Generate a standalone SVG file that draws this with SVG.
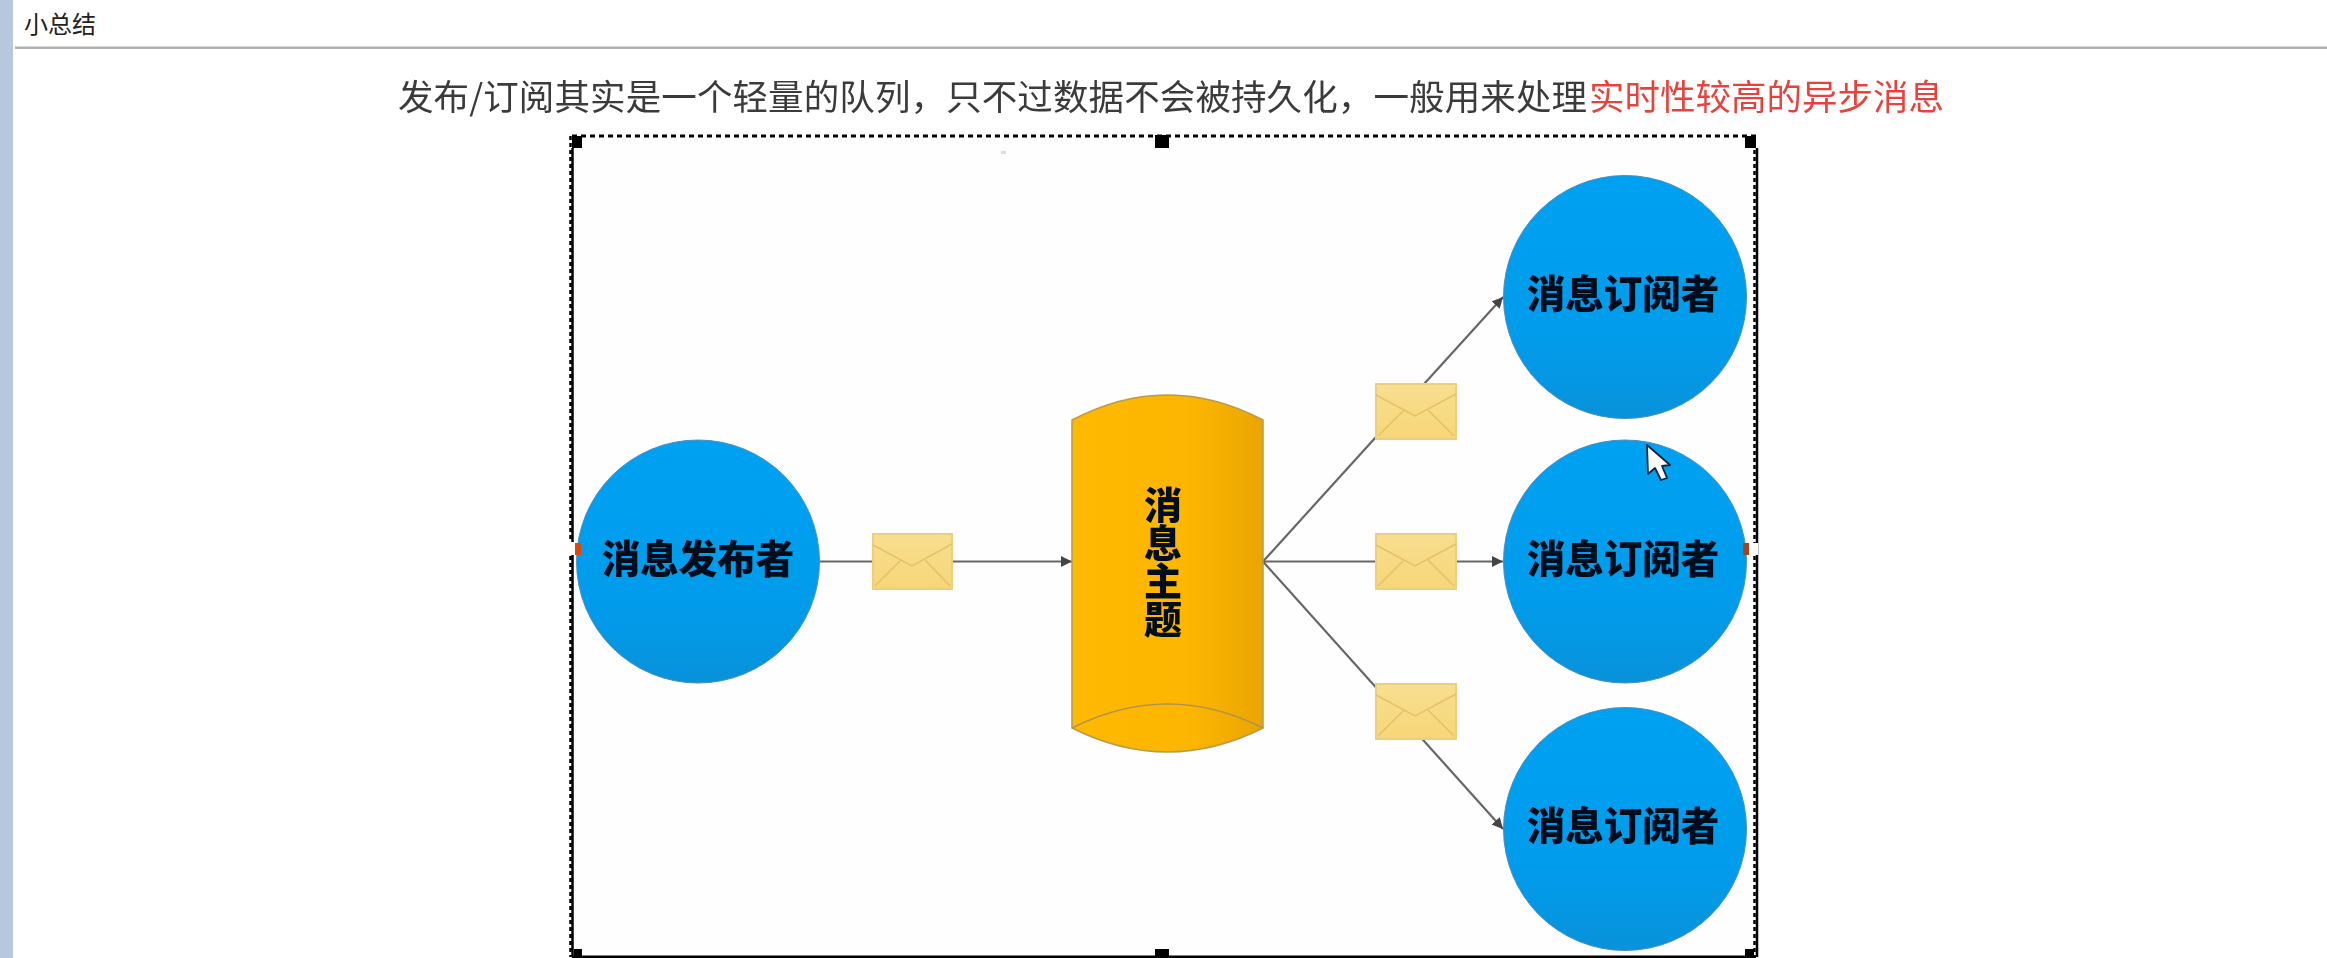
<svg xmlns="http://www.w3.org/2000/svg" width="2327" height="958" viewBox="0 0 2327 958">
<style>
.cjk{font-family:"Noto Sans CJK SC","Noto Sans",sans-serif}
.label{font-size:38.500px;font-weight:900;fill:#06101c;text-anchor:middle;filter:url(#soft)}
.vlabel{font-size:38px;font-weight:900;fill:#06101c;writing-mode:vertical-rl;filter:url(#soft)}
.head{font-size:35.500px;font-weight:400;fill:#3a3a3a;filter:url(#soft)}
.circle{fill:url(#blue);stroke:#4c8fbd;stroke-width:1}
.env{fill:url(#env);stroke:#eccf7c;stroke-width:2}
.fold{fill:none;stroke:#e3c26a;stroke-width:1.500}
.conn{fill:none;stroke:#666;stroke-width:2.200}
.handle{fill:#000}
</style>
<defs>
<filter id="soft" x="-5%" y="-5%" width="110%" height="110%"><feGaussianBlur stdDeviation="0.45"/></filter>
<linearGradient id="blue" x1="0" y1="0" x2="0" y2="1"><stop offset="0" stop-color="#00a1f1"/><stop offset="0.65" stop-color="#019cec"/><stop offset="1" stop-color="#0892da"/></linearGradient>
<linearGradient id="gold" x1="0" y1="0" x2="1" y2="0"><stop offset="0" stop-color="#ffb900"/><stop offset="0.6" stop-color="#fdb601"/><stop offset="1" stop-color="#eaa600"/></linearGradient>
<linearGradient id="env" x1="0" y1="0" x2="0" y2="1"><stop offset="0" stop-color="#f8de90"/><stop offset="1" stop-color="#f6d677"/></linearGradient>
<marker id="arrow" markerUnits="userSpaceOnUse" markerWidth="12" markerHeight="12" refX="11" refY="6" orient="auto"><path d="M0 0.500L11 6L0 11.500Z" fill="#444"/></marker>
</defs>
<rect width="2327" height="958" fill="#fff"/>
<g id="window">
<rect x="0" y="0" width="13" height="958" fill="#b7c8de"/>
<rect x="15" y="46.500" width="2312" height="2.500" fill="#b0b0b0"/>
<text class="cjk" x="24" y="33" font-size="24" fill="#222">小总结</text>
</g>
<text class="cjk head" x="398" y="110" textLength="1189" lengthAdjust="spacing">发布/订阅其实是一个轻量的队列，只不过数据不会被持久化，一般用来处理</text>
<text class="cjk head" x="1589" y="110" style="fill:#e8433c">实时性较高的异步消息</text>
<g id="frame">
<rect x="572" y="136" width="1184" height="821" fill="#fefefe"/>
<path d="M572 136H1756" fill="none" stroke="#000" stroke-width="3" stroke-dasharray="5 4"/>
<path d="M570.500 136V957M1754.500 136V957" fill="none" stroke="#000" stroke-width="2.500" stroke-dasharray="4 3"/>
<path d="M572.500 148V957M1757 148V957M572 956.800H1756" fill="none" stroke="#000" stroke-width="2.500"/>
<rect class="handle" x="572" y="136" width="10" height="12"/>
<rect class="handle" x="1155" y="135" width="14" height="13"/>
<rect class="handle" x="1745" y="136" width="11" height="12"/>
<rect class="handle" x="574" y="949" width="8" height="8"/>
<rect class="handle" x="1155" y="949" width="14" height="8"/>
<rect class="handle" x="1745" y="949" width="9" height="8"/>
<rect x="1001" y="151" width="5" height="3" fill="#ddd"/>
</g>
<g id="connectors">
<path class="conn" marker-end="url(#arrow)" d="M820 561.500H1072"/>
<path class="conn" marker-end="url(#arrow)" d="M1263 561.500L1503 297"/>
<path class="conn" marker-end="url(#arrow)" d="M1263 561.500H1503"/>
<path class="conn" marker-end="url(#arrow)" d="M1263 561.500L1503 829"/>
</g>
<g id="publisher">
<circle class="circle" cx="698" cy="561.500" r="121.500"/>
<text class="cjk label" x="698" y="573">消息发布者</text>
</g>
<g id="topic">
<path d="M1072 420Q1167.500 370 1263 420V728Q1167.500 776 1072 728Z" fill="url(#gold)" stroke="#b89a4e" stroke-width="1.500"/>
<path d="M1072 728Q1167.500 680 1263 728" fill="none" stroke="#b0934b" stroke-width="1.500"/>
<text class="cjk vlabel" x="1163" y="486">消息主题</text>
</g>
<g id="subscriber-1">
<circle class="circle" cx="1625" cy="297" r="121.500"/>
<text class="cjk label" x="1623" y="308">消息订阅者</text>
</g>
<g id="subscriber-2">
<circle class="circle" cx="1625" cy="561.500" r="121.500"/>
<text class="cjk label" x="1623" y="573">消息订阅者</text>
</g>
<g id="subscriber-3">
<circle class="circle" cx="1625" cy="829" r="121.500"/>
<text class="cjk label" x="1623" y="840">消息订阅者</text>
</g>
<g id="envelope-1">
<rect class="env" x="873" y="534" width="79" height="55"/>
<path class="fold" d="M873 545L912 566L952 544M875 586L901 560M950 586L925 560"/>
</g>
<g id="envelope-2">
<rect class="env" x="1376" y="384" width="80" height="55"/>
<path class="fold" d="M1376 395L1415 416L1456 394M1378 436L1404 410M1454 436L1428 410"/>
</g>
<g id="envelope-3">
<rect class="env" x="1376" y="534" width="80" height="55"/>
<path class="fold" d="M1376 545L1415 566L1456 544M1378 586L1404 560M1454 586L1428 560"/>
</g>
<g id="envelope-4">
<rect class="env" x="1376" y="684" width="80" height="55"/>
<path class="fold" d="M1376 695L1415 716L1456 694M1378 736L1404 710M1454 736L1428 710"/>
</g>
<g id="side-handles">
<rect x="569" y="542" width="8" height="13" fill="#fff"/>
<rect x="575" y="543" width="6" height="12" fill="#d9480f"/>
<rect x="1743" y="543" width="15" height="12" fill="#fff"/>
<rect x="1743" y="543" width="6" height="12" fill="#a5441f"/>
</g>
<g id="cursor">
<path d="M1647 445L1648 474L1655 468L1661 480L1667 478L1662 466L1670 465Z" fill="#fff" stroke="#14233c" stroke-width="1.800" stroke-linejoin="round"/>
</g>
</svg>
